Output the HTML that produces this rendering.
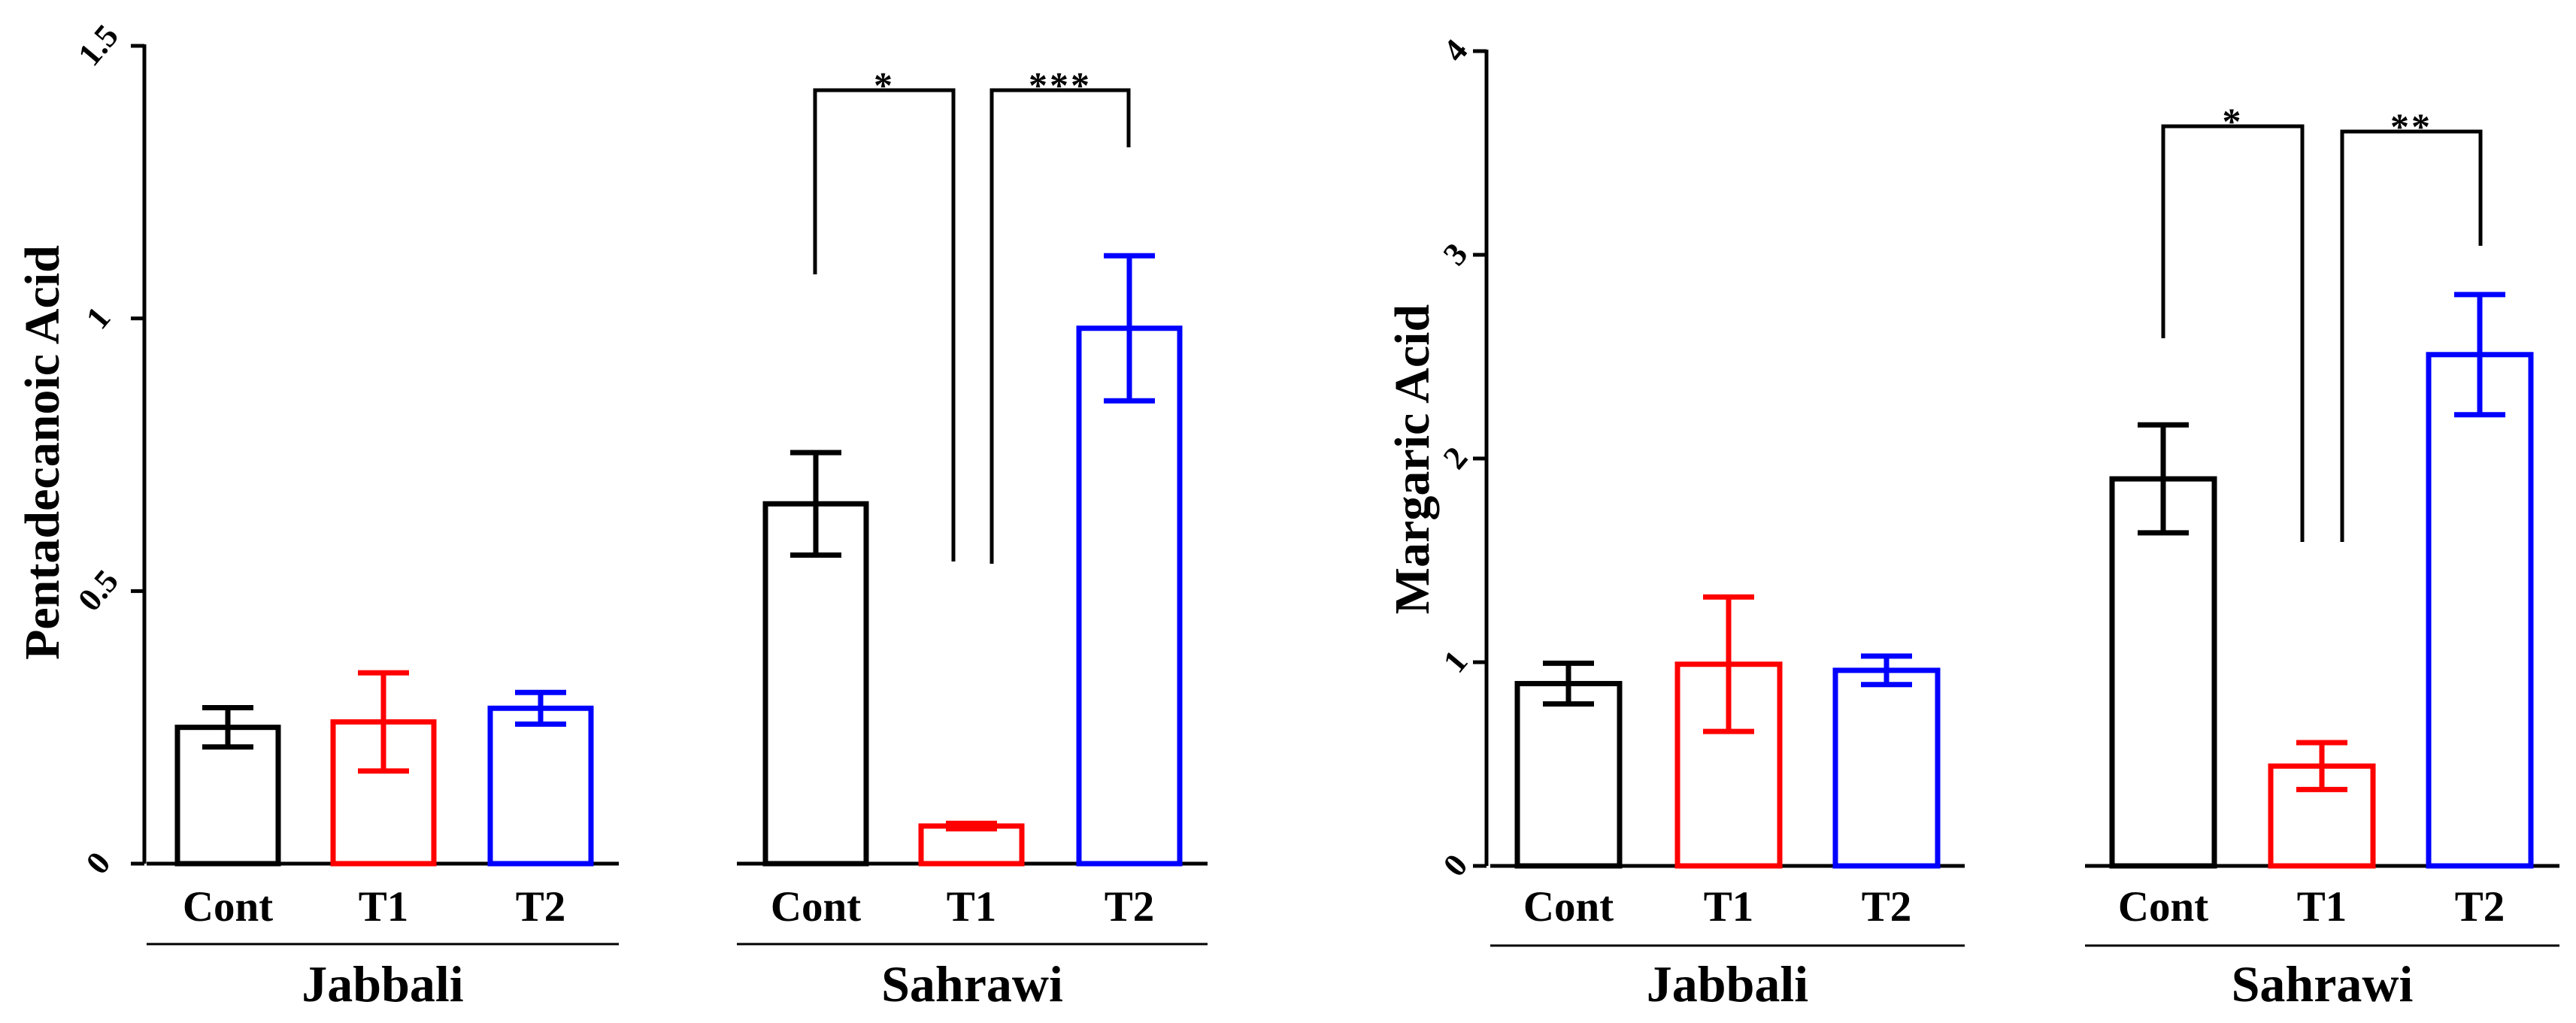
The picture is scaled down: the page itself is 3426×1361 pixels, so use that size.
<!DOCTYPE html>
<html><head><meta charset="utf-8"><style>
html,body{margin:0;padding:0;background:#fff;}
svg{display:block;}
text{font-family:"Liberation Serif",serif;font-weight:bold;fill:#000;}
</style></head><body>
<svg id="chart" width="3426" height="1361" viewBox="0 0 3426 1361" xmlns="http://www.w3.org/2000/svg"></svg>
<script>
// ---- data ----
const categories = ["Cont", "T1", "T2"];
const groups = ["Jabbali", "Sahrawi"];
const colors = ["#000000", "#ff0000", "#0000ff"];
// Pentadecanoic Acid
const pentaJabbali = [0.25, 0.26, 0.285];
const pentaJabbaliErr = [0.036, 0.09, 0.029];
const pentaSahrawi = [0.66, 0.069, 0.982];
const pentaSahrawiErr = [0.094, 0.005, 0.133];
const pentaTicks = [0, 0.5, 1, 1.5];
const pentaTickLabels = ["0", "0.5", "1", "1.5"];
const pentaSig = ["*", "***"];
// Margaric Acid
const margJabbali = [0.895, 0.99, 0.96];
const margJabbaliErr = [0.1, 0.33, 0.07];
const margSahrawi = [1.90, 0.49, 2.51];
const margSahrawiErr = [0.265, 0.115, 0.295];
const margTicks = [0, 1, 2, 3, 4];
const margTickLabels = ["0", "1", "2", "3", "4"];
const margSig = ["*", "**"];

const svg = document.getElementById('chart');
const NS = "http://www.w3.org/2000/svg";
function mk(tag, attrs, parent) {
  const e = document.createElementNS(NS, tag);
  for (const k in attrs) e.setAttribute(k, attrs[k]);
  (parent || svg).appendChild(e);
  return e;
}

function panel(cfg) {
  const g = mk('g', {});
  
  
  const y = v => cfg.y0 - (v / cfg.max) * (cfg.y0 - cfg.yTop);
  const ax = mk('line', {x1: cfg.axisX, y1: y(cfg.max) - 2, x2: cfg.axisX, y2: cfg.y0, stroke: '#000', 'stroke-width': 5}, g);
  
  
  cfg.ticks.forEach((t, i) => {
    const tk = mk('line', {x1: cfg.axisX - 18, y1: y(t), x2: cfg.axisX, y2: y(t), stroke: '#000', 'stroke-width': 5}, g);
    
    
    const tx = cfg.axisX - cfg.tickOff, ty = y(t) + 2;
    const lb = mk('text', {x: tx, y: ty, 'font-size': 44, 'text-anchor': 'middle', 'dominant-baseline': 'middle', transform: `rotate(-50 ${tx} ${ty})`}, g);
    lb.textContent = cfg.tickLabels[i];
    
    
  });
  const tt = mk('text', {x: cfg.titleX, y: cfg.titleY, 'font-size': 66, 'text-anchor': 'middle', transform: `rotate(-90 ${cfg.titleX} ${cfg.titleY})`}, g);
  tt.textContent = cfg.title;
  
  
  cfg.groupDefs.forEach((gd, gi) => {
    const base = mk('line', {x1: gd.x0, y1: cfg.y0, x2: gd.x1, y2: cfg.y0, stroke: '#000', 'stroke-width': 5}, g);
    
    
    categories.forEach((c, ci) => {
      const bx = gd.bars[ci], bw = cfg.barW;
      const v = gd.vals[ci], e = gd.errs[ci];
      const r = mk('rect', {x: bx, y: y(v), width: bw, height: cfg.y0 - y(v), fill: 'none', stroke: colors[ci], 'stroke-width': 7}, g);
      
      
      const cx = bx + bw / 2;
      const eb = mk('path', {d: `M${cx},${y(v + e)}V${y(v - e)}M${cx - 34},${y(v + e)}H${cx + 34}M${cx - 34},${y(v - e)}H${cx + 34}`, stroke: colors[ci], 'stroke-width': 7, fill: 'none'}, g);
      
      
      const cl = mk('text', {x: cx, y: cfg.catY, 'font-size': 57, 'text-anchor': 'middle'}, g);
      cl.textContent = c;
      
      
    });
    const gl = mk('line', {x1: gd.x0, y1: cfg.groupLineY, x2: gd.x1, y2: cfg.groupLineY, stroke: '#000', 'stroke-width': 3}, g);
    
    
    const gt = mk('text', {x: (gd.x0 + gd.x1) / 2, y: cfg.groupY, 'font-size': 68, 'text-anchor': 'middle'}, g);
    gt.textContent = groups[gi];
    
    
  });
  cfg.brackets.forEach((b, i) => {
    const p = mk('path', {d: `M${b.xl},${b.yl}V${b.top}H${b.xr}V${b.yr}`, stroke: '#000', 'stroke-width': 5, fill: 'none'}, g);
    
    
    const s = mk('text', {x: (b.xl + b.xr) / 2, y: b.top + 10, 'font-size': 50, 'text-anchor': 'middle', 'letter-spacing': 3}, g);
    s.textContent = cfg.sig[i];
    
    
  });
}

panel({
  name: 'pentadecanoic-panel', title: 'Pentadecanoic Acid', titleX: 78, titleY: 602,
  axisX: 192, y0: 1149, yTop: 61, max: 1.5, ticks: pentaTicks, tickLabels: pentaTickLabels, tickOff: 58,
  barW: 134, catY: 1225, groupLineY: 1256, groupY: 1332, sig: pentaSig,
  groupDefs: [
    {x0: 195, x1: 823, bars: [236, 443, 652], vals: pentaJabbali, errs: pentaJabbaliErr},
    {x0: 980, x1: 1606, bars: [1018, 1225, 1435], vals: pentaSahrawi, errs: pentaSahrawiErr}
  ],
  brackets: [
    {xl: 1084, yl: 365, top: 120, xr: 1268, yr: 747},
    {xl: 1319, yl: 750, top: 120, xr: 1501, yr: 196}
  ]
});
panel({
  name: 'margaric-panel', title: 'Margaric Acid', titleX: 1900, titleY: 611,
  axisX: 1977, y0: 1152, yTop: 68, max: 4, ticks: margTicks, tickLabels: margTickLabels, tickOff: 38,
  barW: 136, catY: 1225, groupLineY: 1258, groupY: 1332, sig: margSig,
  groupDefs: [
    {x0: 1982, x1: 2613, bars: [2018, 2231, 2441], vals: margJabbali, errs: margJabbaliErr},
    {x0: 2773, x1: 3404, bars: [2809, 3020, 3230], vals: margSahrawi, errs: margSahrawiErr}
  ],
  brackets: [
    {xl: 2877, yl: 450, top: 168, xr: 3062, yr: 721},
    {xl: 3115, yl: 721, top: 175, xr: 3299, yr: 327}
  ]
});
</script>
</body></html>
